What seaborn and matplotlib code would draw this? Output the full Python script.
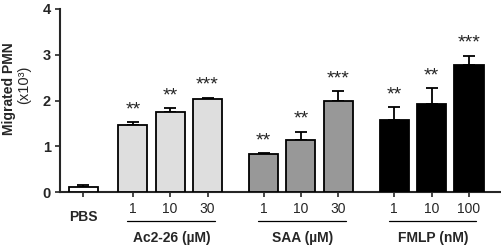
import matplotlib
matplotlib.use("Agg")
import matplotlib.pyplot as plt
import seaborn as sns
import pandas as pd
import numpy as np

# ---- data ----
labels = ["PBS", "1", "10", "30", "1", "10", "30", "1", "10", "100"]
groups = ["PBS", "Ac2-26", "Ac2-26", "Ac2-26", "SAA", "SAA", "SAA", "FMLP", "FMLP", "FMLP"]
values = [0.12, 1.46, 1.75, 2.03, 0.84, 1.14, 1.98, 1.58, 1.93, 2.77]
errors = [0.04, 0.07, 0.08, 0.03, 0.01, 0.18, 0.22, 0.27, 0.34, 0.21]
stars = ["", "**", "**", "***", "**", "**", "***", "**", "**", "***"]
group_titles = ["Ac2-26 (µM)", "SAA (µM)", "FMLP (nM)"]
positions = [-1.33, 0, 1, 2, 3.5, 4.5, 5.5, 7, 8, 9]
colors = {"PBS": "#ffffff", "Ac2-26": "#dedede", "SAA": "#989898", "FMLP": "#000000"}

sns.set_style("ticks")
plt.rcParams["font.family"] = ["Liberation Sans", "DejaVu Sans"]

df = pd.DataFrame({"pos": positions, "value": values, "group": groups})

fig = plt.figure(figsize=(5.01, 2.5), dpi=100)
ax = fig.add_axes([60 / 501, 58 / 250, 440 / 501, 183 / 250])

sns.barplot(data=df, x="pos", y="value", hue="group", palette=colors,
            native_scale=True, dodge=False, width=0.78, errorbar=None,
            edgecolor="black", linewidth=1.3, legend=False, ax=ax, zorder=3)

ax.errorbar(positions, values, yerr=[np.zeros(len(errors)), errors], fmt="none",
            ecolor="black", elinewidth=1.3, capsize=4.5, capthick=1.3, zorder=2)

for p, v, e, s in zip(positions, values, errors, stars):
    if s:
        ax.annotate(s, (p, v + e), xytext=(0, 9), textcoords="offset points",
                    ha="center", va="center", fontsize=14)

ax.set_xlim(-1.95, 9.83)
ax.set_ylim(0, 4)
ax.set_yticks([0, 1, 2, 3, 4])
ax.set_yticklabels(["0", "1", "2", "3", "4"], fontweight="bold", fontsize=10.5)
ax.set_xticks(positions)
ax.set_xticklabels([])
ax.tick_params(axis="both", length=3.5, width=1.2, direction="out", pad=3)
ax.set_xlabel("")
ax.set_ylabel("")
for side in ["top", "right"]:
    ax.spines[side].set_visible(False)
for side in ["left", "bottom"]:
    ax.spines[side].set_linewidth(1.5)

trans = ax.get_xaxis_transform()
for p, lab in zip(positions, labels):
    if lab == "PBS":
        ax.text(p, -0.137, lab, transform=trans, ha="center", va="center",
                fontsize=10, fontweight="bold")
    else:
        ax.text(p, -0.0929, lab, transform=trans, ha="center", va="center", fontsize=10)

group_pos = [positions[1:4], positions[4:7], positions[7:10]]
for title, gp in zip(group_titles, group_pos):
    ax.plot([gp[0] - 0.15, gp[-1] + 0.2], [-0.158, -0.158], transform=trans,
            color="black", lw=0.9, clip_on=False)
    ax.text((gp[0] + gp[-1]) / 2 + 0.05, -0.251, title, transform=trans,
            ha="center", va="center", fontsize=10, fontweight="bold")

fig.text(9 / 501, 1 - 89 / 250, "Migrated PMN", rotation=90, ha="center",
         va="center", fontsize=10, fontweight="bold")
fig.text(24 / 501, 1 - 85 / 250, "(x10³)", rotation=90, ha="center",
         va="center", fontsize=10.5)

fig.savefig("out.png", dpi=100)
